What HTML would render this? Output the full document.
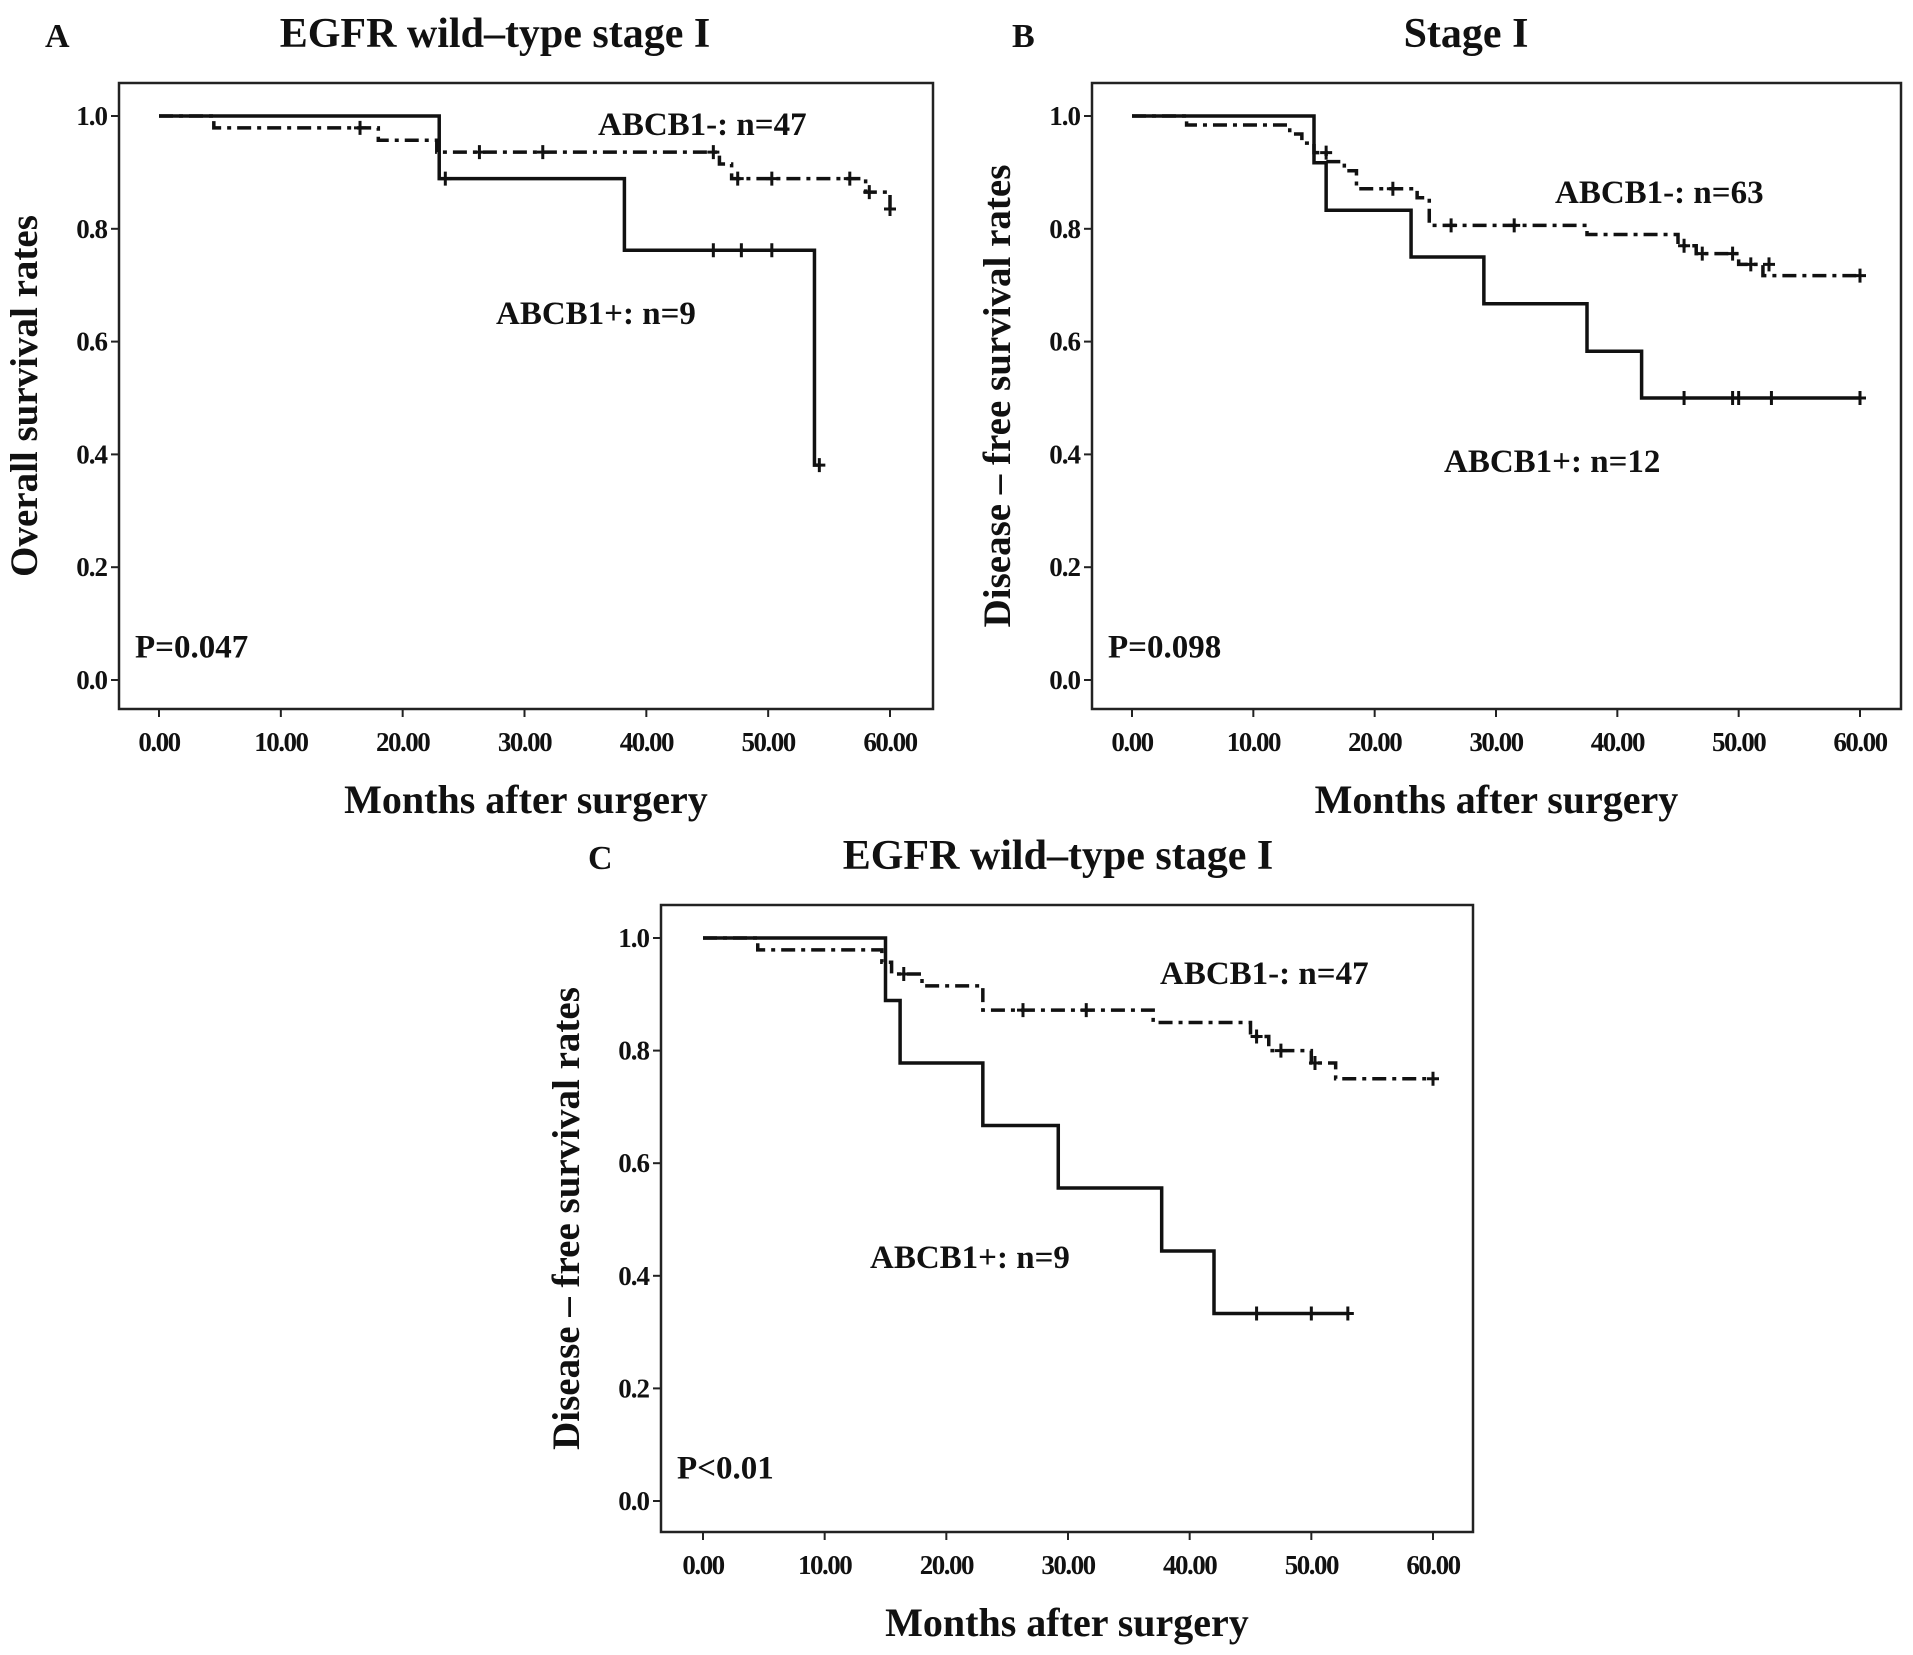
<!DOCTYPE html>
<html><head><meta charset="utf-8"><style>
body{margin:0;background:#fff}
svg{display:block}
text{font-family:"Liberation Serif",serif;font-weight:bold;fill:#111}
</style></head><body>
<svg id="fig" width="1913" height="1655" viewBox="0 0 1913 1655" xmlns="http://www.w3.org/2000/svg"></svg>
<script>
// Panel A data
const aPosT=[0,23,38.2,53.8,54.2], aPosS=[1,0.889,0.762,0.381,0.381];
const aPosCT=[23.5,45.5,47.8,50.3,54.2], aPosCS=[0.889,0.762,0.762,0.762,0.381];
const aNegT=[0,4.5,18,22.8,46,47,58,60], aNegS=[1,0.979,0.957,0.936,0.915,0.889,0.865,0.835];
const aNegCT=[16.5,26.3,31.5,45.5,47.5,50.3,56.7,58.3,60], aNegCS=[0.979,0.936,0.936,0.936,0.889,0.889,0.889,0.865,0.835];
// Panel B data
const bPosT=[0,15,16,23,29,37.5,42,60], bPosS=[1,0.917,0.833,0.75,0.667,0.583,0.5,0.5];
const bPosCT=[45.5,49.5,50,52.7,60], bPosCS=[0.5,0.5,0.5,0.5,0.5];
const bNegT=[0,4.5,13,14,15,16,17.5,18.5,22,23.5,24.5,37.5,45,46.5,50,52,60], bNegS=[1,0.984,0.968,0.952,0.935,0.919,0.903,0.871,0.871,0.855,0.806,0.79,0.77,0.756,0.737,0.717,0.717];
const bNegCT=[16,21.5,26.3,31.5,45.5,47,49.5,51,52.5,60], bNegCS=[0.935,0.871,0.806,0.806,0.77,0.756,0.756,0.737,0.737,0.717];
// Panel C data
const cPosT=[0,15,16.2,23,29.2,37.7,42,53], cPosS=[1,0.889,0.778,0.667,0.556,0.444,0.333,0.333];
const cPosCT=[45.5,50,53], cPosCS=[0.333,0.333,0.333];
const cNegT=[0,4.5,14.7,15.5,18,23,37,45,46.5,50,52,60], cNegS=[1,0.979,0.957,0.936,0.915,0.872,0.85,0.825,0.80,0.778,0.75,0.75];
const cNegCT=[16.5,26.3,31.5,45.5,47.5,50.3,60], cNegCS=[0.936,0.872,0.872,0.825,0.80,0.778,0.75];
const xTicks=[0,10,20,30,40,50,60], yTicks=[0,0.2,0.4,0.6,0.8,1.0];

const NS="http://www.w3.org/2000/svg";
const svg=document.getElementById('fig');
function el(tag,attrs,parent){const e=document.createElementNS(NS,tag);for(const k in attrs)e.setAttribute(k,attrs[k]);(parent||svg).appendChild(e);return e;}

function panel(p){
  const g=el('g',{});
  
  
  const X=v=>p.x0+(p.x60-p.x0)*v/60, Y=v=>p.y0+(p.y1-p.y0)*v;
  const box=el('rect',{x:p.L,y:p.T,width:p.R-p.L,height:p.B-p.T,fill:'none',stroke:'#222','stroke-width':2.5},g);
  
  yTicks.forEach(v=>{
    const t=el('line',{x1:p.L-8,x2:p.L,y1:Y(v),y2:Y(v),stroke:'#222','stroke-width':2},g);
    
    const tx=el('text',{x:p.L-12,y:Y(v)+9,'text-anchor':'end','font-size':27,'letter-spacing':-1},g);tx.textContent=v.toFixed(1);
    
  });
  xTicks.forEach(v=>{
    const t=el('line',{x1:X(v),x2:X(v),y1:p.B,y2:p.B+8,stroke:'#222','stroke-width':2},g);
    
    const tx=el('text',{x:X(v),y:p.B+42,'text-anchor':'middle','font-size':27,'letter-spacing':-1.5},g);tx.textContent=v.toFixed(2);
    
  });
  function series(T,S,CT,CS,dash,name){
    let d='M'+X(T[0])+','+Y(S[0]);
    for(let i=1;i<T.length;i++){d+=' H'+X(T[i])+' V'+Y(S[i]);}
    const pa=el('path',{d:d,fill:'none',stroke:'#111','stroke-width':3.5,'stroke-dasharray':dash?'14 6 4 6':'none'},g);
    
    CT.forEach((t,i)=>{
      const c=el('path',{d:`M${X(t)-6},${Y(CS[i])} h12 M${X(t)},${Y(CS[i])-7} v14`,stroke:'#111','stroke-width':3},g);
      
    });
  }
  series(p.negT,p.negS,p.negCT,p.negCS,true,'abcb1-negative');
  series(p.posT,p.posS,p.posCT,p.posCS,false,'abcb1-positive');
  const tl=el('text',{x:p.tx,y:p.T-36,'text-anchor':'middle','font-size':42},g);tl.textContent=p.title;
  
  const lt=el('text',{x:p.lx,y:p.T-36,'font-size':34},g);lt.textContent=p.id;
  
  const xt=el('text',{x:(p.L+p.R)/2,y:p.B+104,'text-anchor':'middle','font-size':40},g);xt.textContent='Months after surgery';
  
  const yx=p.L-82, yc=(p.T+p.B)/2;
  const yt=el('text',{x:yx,y:yc,'text-anchor':'middle','font-size':39,transform:`rotate(-90 ${yx} ${yc})`},g);yt.textContent=p.ylab;
  
  const pv=el('text',{x:p.L+16,y:Y(0.04),'font-size':33},g);pv.textContent=p.pval;
  
  const ln=el('text',{x:p.negLx,y:p.negLy,'font-size':33},g);ln.textContent=p.negLab;
  
  const lp=el('text',{x:p.posLx,y:p.posLy,'font-size':33},g);lp.textContent=p.posLab;
  
}
panel({id:'A',L:119,R:933,T:83,B:709,x0:159,x60:890,y0:680,y1:116,tx:495,lx:45,title:'EGFR wild–type  stage I',ylab:'Overall survival rates',pval:'P=0.047',
  posT:aPosT,posS:aPosS,posCT:aPosCT,posCS:aPosCS,negT:aNegT,negS:aNegS,negCT:aNegCT,negCS:aNegCS,
  negLab:'ABCB1-: n=47',negLx:598,negLy:135,posLab:'ABCB1+: n=9',posLx:496,posLy:324});
panel({id:'B',L:1092,R:1901,T:83,B:709,x0:1132,x60:1860,y0:680,y1:116,tx:1466,lx:1012,title:'Stage I',ylab:'Disease – free survival rates',pval:'P=0.098',
  posT:bPosT,posS:bPosS,posCT:bPosCT,posCS:bPosCS,negT:bNegT,negS:bNegS,negCT:bNegCT,negCS:bNegCS,
  negLab:'ABCB1-: n=63',negLx:1555,negLy:203,posLab:'ABCB1+: n=12',posLx:1444,posLy:472});
panel({id:'C',L:661,R:1473,T:905,B:1532,x0:703,x60:1433,y0:1501,y1:938,tx:1058,lx:588,title:'EGFR wild–type  stage I',ylab:'Disease – free survival rates',pval:'P<0.01',
  posT:cPosT,posS:cPosS,posCT:cPosCT,posCS:cPosCS,negT:cNegT,negS:cNegS,negCT:cNegCT,negCS:cNegCS,
  negLab:'ABCB1-: n=47',negLx:1160,negLy:984,posLab:'ABCB1+: n=9',posLx:870,posLy:1268});
</script>
</body></html>
